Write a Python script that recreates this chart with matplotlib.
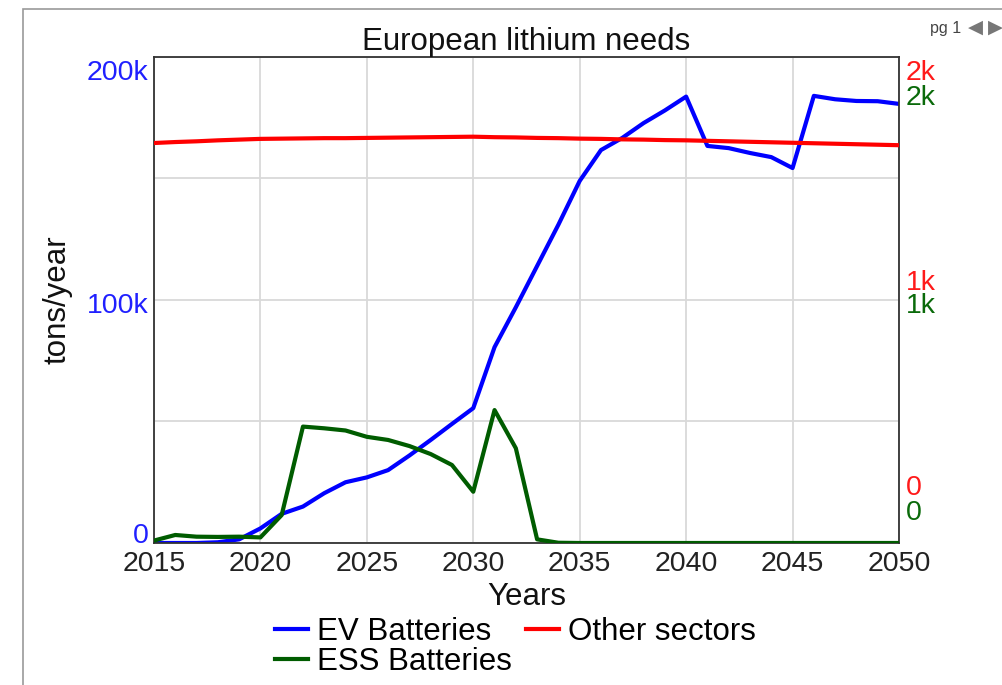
import matplotlib
matplotlib.use("Agg")
import matplotlib.pyplot as plt
from matplotlib.transforms import ScaledTranslation
from matplotlib.patches import Rectangle

# data
years = list(range(2015, 2051))
ev_batteries = [0, 0, 0, 300, 1500, 6000, 12000, 15000, 20500, 25000,
                27000, 30000, 36000, 42400, 49000, 55500, 80600, 97000, 114000, 131000,
                149000, 161700, 166700, 172800, 178000, 183700, 163400, 162500, 160500, 158800,
                154300, 184000, 182600, 181900, 181800, 180700]
other_sectors = [1646, 1650, 1653, 1657, 1660, 1663, 1664, 1665, 1666, 1666,
                 1667, 1668, 1669, 1670, 1671, 1672, 1670, 1669, 1667, 1666,
                 1664, 1663, 1661, 1660, 1658, 1657, 1655, 1653, 1651, 1649,
                 1647, 1645, 1643, 1641, 1639, 1637]
ess_batteries = [10, 33, 26, 25, 26, 23, 115, 479, 472, 463,
                 437, 424, 399, 366, 321, 211, 547, 390, 15, 1,
                 0, 0, 0, 0, 0, 0, 0, 0, 0, 0,
                 0, 0, 0, 0, 0, 0]

left_ticks = [0, 50000, 100000, 150000, 200000]
left_labels = ["0", "", "100k", "", "200k"]
right_ticks = [0, 1000, 2000]
right_labels = ["0", "1k", "2k"]

plt.rcParams["font.family"] = ["Liberation Sans", "DejaVu Sans"]
FS_TICK = 20.5
FS = 22.5

fig = plt.figure(figsize=(10.03, 6.85), dpi=100)
ax = fig.add_axes([0.1535, 0.2073, 0.7428, 0.7095])

# outer frame of the page
fig.patches.append(Rectangle((23 / 1003, -0.1), 1.2, 1.1 - 9 / 685,
                             transform=fig.transFigure, fill=False,
                             edgecolor="#9a9a9a", lw=1.2))

ev_line, = ax.plot(years, ev_batteries, color="#0000ff", lw=3, label="EV Batteries")
ax.set_xlim(2015, 2050)
ax.set_ylim(0, 200000)
ax.set_xticks(range(2015, 2051, 5))
ax.set_yticks(left_ticks)
ax.set_yticklabels(left_labels)
ax.grid(True, color="#d9d9d9", lw=1.3)
ax.tick_params(axis="both", length=0, labelsize=FS_TICK)
ax.tick_params(axis="y", colors="#2020ff", pad=4)
ax.tick_params(axis="x", colors="#222222", pad=6)
for s in ax.spines.values():
    s.set_color("#333333")
    s.set_linewidth(1.3)

ax_red = ax.twinx()
other_line, = ax_red.plot(years, other_sectors, color="#ff0000", lw=3, label="Other sectors")
ax_red.set_ylim(0, 2000)
ax_red.set_yticks(right_ticks)
ax_red.set_yticklabels(right_labels)
ax_red.tick_params(axis="y", length=0, labelsize=FS_TICK, colors="#ff1a1a", pad=5)

ax_green = ax.twinx()
ess_line, = ax_green.plot(years, ess_batteries, color="#005c00", lw=3, label="ESS Batteries")
ax_green.set_ylim(0, 2000)
ax_green.set_yticks(right_ticks)
ax_green.set_yticklabels(right_labels)
ax_green.tick_params(axis="y", length=0, labelsize=FS_TICK, colors="#0a6a0a", pad=5)

for a in (ax_red, ax_green):
    for s in a.spines.values():
        s.set_visible(False)


def shift(labels, offsets_px):
    for lab, dy in zip(labels, offsets_px):
        lab.set_transform(lab.get_transform() +
                          ScaledTranslation(0, dy / 100, fig.dpi_scale_trans))


shift(ax.get_yticklabels(), [10, 0, -3, 0, -13])
shift(ax_red.get_yticklabels(), [58, 20, -13])
shift(ax_green.get_yticklabels(), [33, -3, -38])

ax.set_title("European lithium needs", fontsize=FS, pad=5, color="#111111")
ax.set_xlabel("Years", fontsize=FS, labelpad=3.5, color="#111111")
ax.set_ylabel("tons/year", fontsize=FS, labelpad=10, color="#111111")

fig.legend(handles=[ev_line, ess_line, other_line], ncol=2, loc="upper center",
           bbox_to_anchor=(0.514, 0.122), frameon=False, fontsize=FS,
           handlelength=1.05, handletextpad=0.3, columnspacing=0.45,
           labelspacing=0.0, borderpad=0)

fig.text(930 / 1003, 1 - 28 / 685, "pg 1", fontsize=11.5,
         color="#444444", va="center", ha="left")
fig.text(968 / 1003, 1 - 28 / 685, "\u25c0", fontsize=14,
         color="#777777", va="center", ha="left")
fig.text(988 / 1003, 1 - 28 / 685, "\u25b6", fontsize=14,
         color="#777777", va="center", ha="left")

fig.savefig("out.png", dpi=100)
